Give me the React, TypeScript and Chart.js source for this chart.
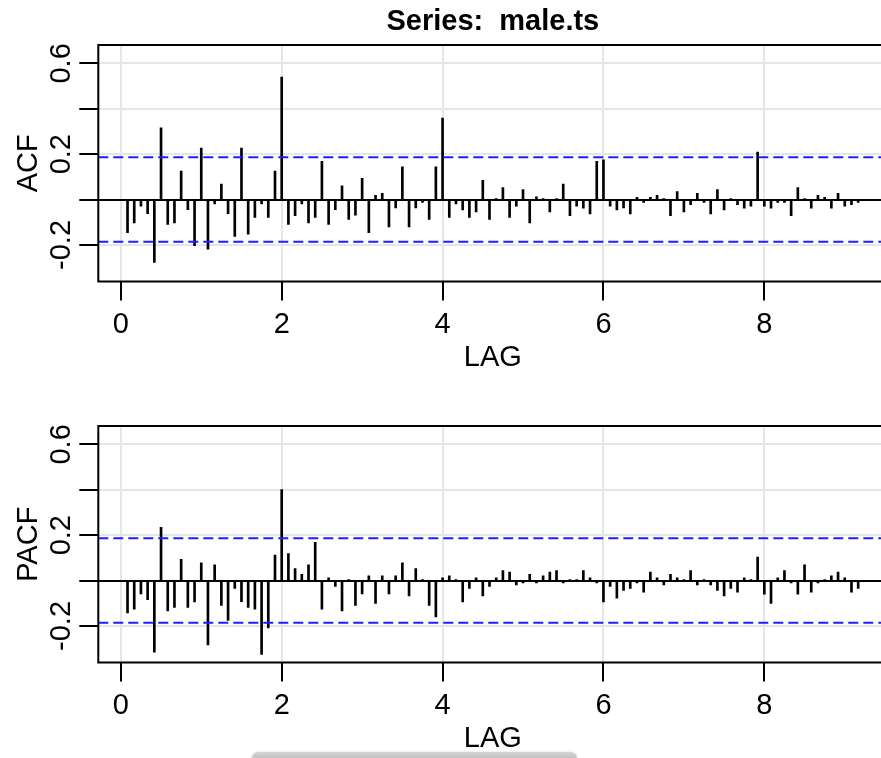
import React, { useEffect, useRef } from "react";
import { Chart, registerables } from "chart.js";

Chart.register(...registerables);

// ---------------- data ----------------
const seriesName = "male.ts";
const frequency = 12; // lags are shown in years (monthly series)

const acfValues = [
  -0.146, -0.103, -0.029, -0.062, -0.277, 0.316, -0.11, -0.103, 0.125, -0.044,
  -0.203, 0.227, -0.219, -0.019, 0.068, -0.062, -0.162, 0.227, -0.152, -0.079,
  -0.019, -0.079, 0.125, 0.54, -0.11, -0.071, -0.019, -0.103, -0.079, 0.168,
  -0.11, -0.044, 0.06, -0.087, -0.069, 0.094, -0.146, 0.019, 0.028, -0.121,
  -0.037, 0.144, -0.121, -0.037, -0.013, -0.087, 0.144, 0.359, -0.079, -0.019,
  -0.046, -0.079, -0.054, 0.085, -0.087, 0.003, 0.053, -0.079, -0.029, 0.044,
  -0.103, 0.012, 0.003, -0.054, 0.003, 0.068, -0.071, -0.029, -0.038, -0.063,
  0.168, 0.175, -0.029, -0.046, -0.037, -0.063, 0.01, -0.013, 0.01, 0.019,
  0.003, -0.071, 0.035, -0.054, -0.022, 0.028, -0.013, -0.063, 0.044, -0.046,
  0.003, -0.022, -0.038, -0.029, 0.209, -0.029, -0.038, -0.013, -0.013, -0.071,
  0.053, 0.003, -0.038, 0.019, 0.01, -0.038, 0.028, -0.029, -0.022, -0.013,
];

const pacfValues = [
  -0.143, -0.126, -0.059, -0.084, -0.315, 0.234, -0.134, -0.118, 0.094, -0.118,
  -0.094, 0.078, -0.284, 0.069, -0.109, -0.176, -0.035, -0.093, -0.118, -0.126,
  -0.325, -0.209, 0.112, 0.401, 0.119, 0.053, 0.028, 0.069, 0.168, -0.126,
  0.012, -0.026, -0.134, 0.003, -0.109, -0.059, 0.021, -0.101, 0.021, -0.059,
  0.021, 0.078, -0.068, 0.053, 0.003, -0.109, -0.16, 0.012, 0.021, 0.003,
  -0.094, -0.035, 0.012, -0.068, -0.026, 0.012, 0.044, 0.037, -0.019, -0.01,
  0.028, -0.01, 0.021, 0.037, 0.044, -0.01, 0.003, 0.003, 0.044, 0.012,
  -0.01, -0.094, -0.026, -0.078, -0.043, -0.035, -0.01, -0.051, 0.037, 0.012,
  -0.019, 0.028, 0.012, 0.003, 0.044, -0.019, 0.003, -0.019, -0.043, -0.068,
  -0.035, -0.051, 0.012, 0.003, 0.103, -0.06, -0.101, 0.012, 0.044, -0.01,
  -0.06, 0.069, -0.051, -0.01, 0.003, 0.021, 0.037, 0.012, -0.051, -0.035,
];

const confLimit = 0.186;
const xTickValues = [0, 2, 4, 6, 8];
const yTickValues = [-0.2, 0, 0.2, 0.4, 0.6];
const yLabelValues = [-0.2, 0.2, 0.6];
const xRange = [-0.28, 9.53];
const yRange = [-0.361, 0.681];

// ---------------- layout ----------------
const CANVAS_W = 900;
const PLOT_LEFT = 98.3;
const PLOT_RIGHT = 887.4;
const PLOT_TOP = 45;
const PLOT_BOTTOM = 281.5;
const FONT = '"Liberation Sans", Arial, sans-serif';
const GRID = "#e6e6e6";

type PanelProps = {
  values: number[];
  yTitle: string;
  title?: string;
  top: number;
  height: number;
};

function Panel({ values, yTitle, title, top, height }: PanelProps) {
  const ref = useRef<HTMLCanvasElement>(null);

  useEffect(() => {
    if (!ref.current) return;
    const data = values.map((v, i) => ({ x: (i + 1) / frequency, y: v }));

    const decor = {
      id: "decor",
      afterDraw(chart: any) {
        const { ctx, chartArea: a } = chart;
        const xs = chart.scales.x;
        const ys = chart.scales.y;
        ctx.save();
        // confidence bands
        ctx.strokeStyle = "rgb(30,30,255)";
        ctx.lineWidth = 2;
        ctx.setLineDash([10, 5]);
        for (const v of [confLimit, -confLimit]) {
          const py = ys.getPixelForValue(v);
          ctx.beginPath();
          ctx.moveTo(a.left, py);
          ctx.lineTo(a.right, py);
          ctx.stroke();
        }
        ctx.setLineDash([]);
        // box
        ctx.strokeStyle = "#000";
        ctx.lineWidth = 2;
        ctx.strokeRect(a.left, a.top, a.right - a.left, a.bottom - a.top);
        // labels
        ctx.fillStyle = "#000";
        ctx.font = `29px ${FONT}`;
        ctx.textAlign = "center";
        ctx.textBaseline = "alphabetic";
        for (const v of xTickValues) {
          ctx.fillText(String(v), xs.getPixelForValue(v), 333);
        }
        const cx = (a.left + a.right) / 2;
        ctx.fillText("LAG", cx, 366);
        for (const v of yLabelValues) {
          ctx.save();
          ctx.translate(70, ys.getPixelForValue(v));
          ctx.rotate(-Math.PI / 2);
          ctx.fillText(v.toFixed(1), 0, 0);
          ctx.restore();
        }
        ctx.save();
        ctx.translate(37, (a.top + a.bottom) / 2);
        ctx.rotate(-Math.PI / 2);
        ctx.fillText(yTitle, 0, 0);
        ctx.restore();
        if (title) {
          ctx.font = `bold 29px ${FONT}`;
          ctx.fillText(title, cx, 30);
        }
        ctx.restore();
      },
    };

    const chart = new Chart(ref.current, {
      type: "bar",
      data: {
        datasets: [
          {
            data,
            backgroundColor: "#000",
            borderWidth: 0,
            barThickness: 2,
            grouped: false,
          } as any,
        ],
      },
      options: {
        animation: false,
        responsive: false,
        devicePixelRatio: 1,
        events: [],
        layout: {
          padding: { left: 0, right: CANVAS_W - PLOT_RIGHT, top: PLOT_TOP, bottom: 0 },
        },
        scales: {
          x: {
            type: "linear",
            min: xRange[0],
            max: xRange[1],
            offset: false,
            afterFit: (s: any) => {
              s.height = height - PLOT_BOTTOM;
            },
            afterBuildTicks: (s: any) => {
              s.ticks = xTickValues.map((v) => ({ value: v }));
            },
            ticks: { display: false },
            grid: {
              color: GRID,
              lineWidth: 2,
              drawTicks: true,
              tickLength: 19,
              tickColor: "#000",
              tickWidth: 2,
              offset: false,
            },
            border: { display: false },
          },
          y: {
            type: "linear",
            min: yRange[0],
            max: yRange[1],
            afterFit: (s: any) => {
              s.width = PLOT_LEFT;
            },
            afterBuildTicks: (s: any) => {
              s.ticks = yTickValues.map((v) => ({ value: v }));
            },
            ticks: { display: false },
            grid: {
              color: (c: any) => (c.tick && Math.abs(c.tick.value) < 1e-9 ? "#000" : GRID),
              lineWidth: 2,
              drawTicks: true,
              tickLength: 19,
              tickColor: "#000",
              tickWidth: 2,
            },
            border: { display: false },
          },
        },
        plugins: {
          legend: { display: false },
          tooltip: { enabled: false },
          title: { display: false },
        },
      } as any,
      plugins: [decor],
    });
    return () => chart.destroy();
  }, [values, yTitle, title, top, height]);

  return (
    <canvas
      ref={ref}
      width={CANVAS_W}
      height={height}
      style={{ position: "absolute", left: 0, top, width: CANVAS_W, height }}
    />
  );
}

export default function App() {
  return (
    <div
      style={{
        position: "fixed",
        left: 0,
        top: 0,
        width: 881,
        height: 758,
        overflow: "hidden",
        background: "#fff",
      }}
    >
      <Panel values={acfValues} yTitle="ACF" title={`Series:  ${seriesName}`} top={0} height={381} />
      <Panel values={pacfValues} yTitle="PACF" top={381} height={377} />
      <div
        style={{
          position: "absolute",
          left: 252,
          top: 752,
          width: 325,
          height: 8,
          borderRadius: "6px 6px 0 0",
          background: "linear-gradient(to bottom, #d4d4d4, #bcbcbc)",
          boxShadow: "0 0 3px rgba(0,0,0,0.15)",
        }}
      />
    </div>
  );
}
